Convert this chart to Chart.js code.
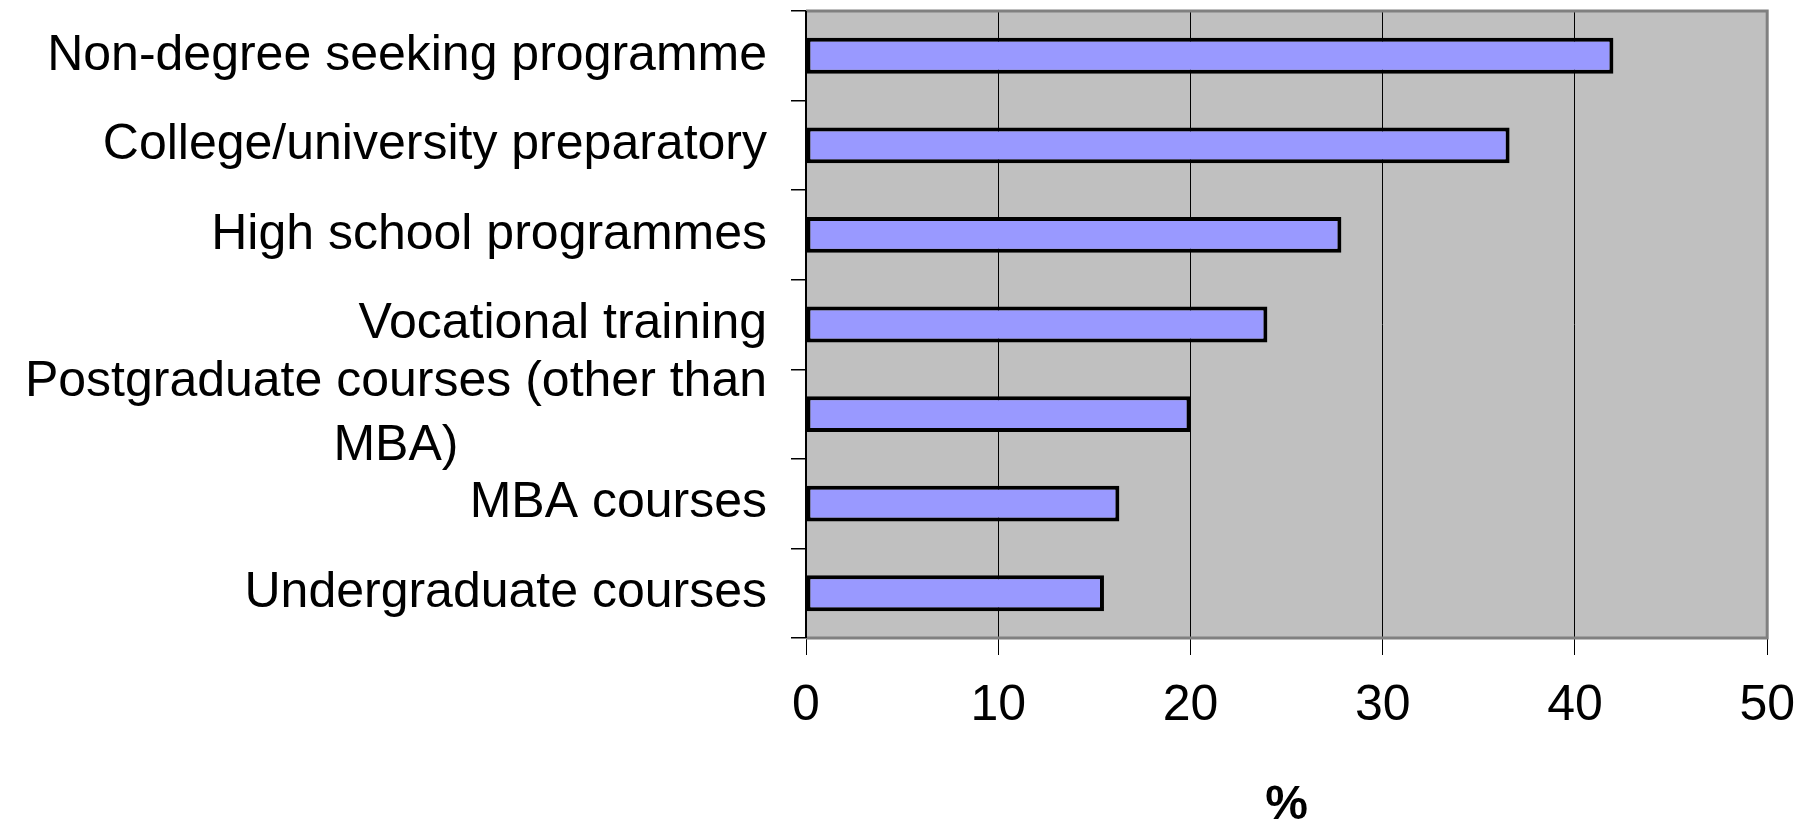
<!DOCTYPE html>
<html><head><meta charset="utf-8">
<script src="https://cdn.jsdelivr.net/npm/chart.js@4"></script>
<style>html,body{margin:0;padding:0;background:#fff;overflow:hidden}#wrap{width:1816px;height:823px;position:relative}</style>
</head><body><div id="wrap"><canvas id="c"></canvas></div>
<script>
const categories = [
  "Non-degree seeking programme",
  "College/university preparatory",
  "High school programmes",
  "Vocational training",
  ["Postgraduate courses (other than", "MBA)"],
  "MBA courses",
  "Undergraduate courses"
];
const values = [42.0, 36.6, 27.85, 24.0, 20.0, 16.3, 15.5];
const xTicks = [0, 10, 20, 30, 40, 50];
const axisTitle = "%";

const FONT = '"Liberation Sans", Arial, sans-serif';

const plotFrame = {
  id: 'plotFrame',
  beforeDraw(chart) {
    const {ctx, chartArea: a} = chart;
    ctx.save();
    ctx.fillStyle = '#C0C0C0';
    ctx.fillRect(a.left, a.top, a.right - a.left, a.bottom - a.top);
    ctx.restore();
  },
  beforeDatasetsDraw(chart) {
    const {ctx, chartArea: a} = chart;
    ctx.save();
    ctx.strokeStyle = '#808080';
    ctx.lineWidth = 3;
    ctx.beginPath();
    ctx.moveTo(a.left, a.top);
    ctx.lineTo(a.right, a.top);
    ctx.lineTo(a.right, a.bottom);
    ctx.lineTo(a.left, a.bottom);
    ctx.stroke();
    ctx.strokeStyle = '#000';
    ctx.lineWidth = 2;
    ctx.beginPath();
    ctx.moveTo(a.left, a.top);
    ctx.lineTo(a.left, a.bottom);
    ctx.stroke();
    ctx.restore();
  }
};

const yLabels = {
  id: 'yLabels',
  afterDraw(chart) {
    const ys = chart.scales.y;
    const {ctx} = chart;
    const xr = chart.chartArea.left - 39;
    const lh = 64;
    ctx.save();
    ctx.font = '50px ' + FONT;
    ctx.fillStyle = '#000';
    ctx.textBaseline = 'middle';
    categories.forEach((lab, i) => {
      const y = ys.getPixelForTick(i);
      const lines = Array.isArray(lab) ? lab : [lab];
      const w = Math.max(...lines.map(l => ctx.measureText(l).width));
      lines.forEach((l, j) => {
        const yy = y + (j - (lines.length - 1) / 2) * lh;
        if (lines.length > 1) { ctx.textAlign = 'center'; ctx.fillText(l, xr - w / 2, yy); }
        else { ctx.textAlign = 'right'; ctx.fillText(l, xr, yy); }
      });
    });
    ctx.restore();
  }
};

new Chart(document.getElementById('c'), {
  type: 'bar',
  data: {
    labels: categories,
    datasets: [{
      data: values,
      backgroundColor: '#9999FF',
      borderColor: '#000',
      borderWidth: 4,
      borderSkipped: false,
      barPercentage: 0.4,
      categoryPercentage: 1.0
    }]
  },
  options: {
    indexAxis: 'y',
    responsive: true,
    maintainAspectRatio: false,
    devicePixelRatio: 1,
    animation: false,
    layout: { padding: { top: 11, right: 46, bottom: 0, left: 0 } },
    plugins: { legend: { display: false }, tooltip: { enabled: false } },
    scales: {
      x: {
        min: 0, max: 50,
        afterBuildTicks(scale) { scale.ticks = xTicks.map(v => ({value: v})); },
        afterFit(scale) { scale.height = 823 - 638; },
        grid: { color: '#000', lineWidth: 1, drawTicks: true, tickLength: 17, tickColor: '#000' },
        border: { display: false },
        ticks: { color: '#000', font: { family: FONT, size: 50 }, padding: 21, maxRotation: 0 },
        title: { display: true, text: axisTitle, color: '#000', font: { family: FONT, size: 48, weight: 'bold', lineHeight: 0.7 }, padding: 0 }
      },
      y: {
        afterFit(scale) { scale.width = 806; },
        grid: { offset: true, drawOnChartArea: false, drawTicks: true, tickLength: 15, color: '#000', lineWidth: 1.5 },
        border: { display: false },
        ticks: { display: false }
      }
    }
  },
  plugins: [plotFrame, yLabels]
});
</script>
</body></html>
